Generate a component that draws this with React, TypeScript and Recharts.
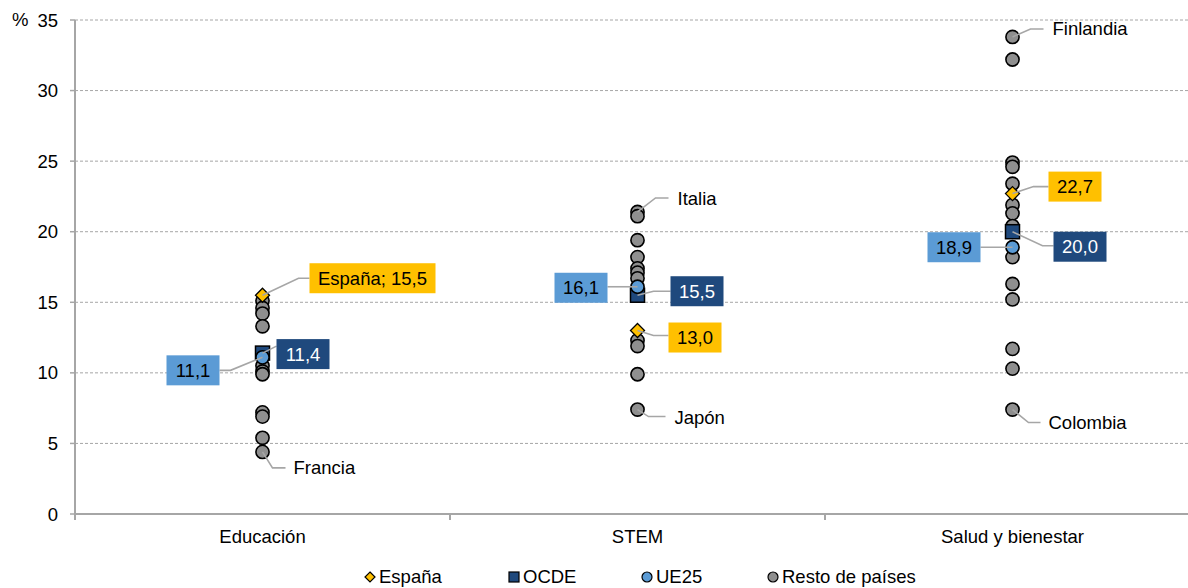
import React from 'react';
import { ScatterChart, Scatter, XAxis, YAxis, CartesianGrid, Legend } from 'recharts';

// categorías y valores (%)
const categories = ['Educación', 'STEM', 'Salud y bienestar'];
const espana = [15.5, 13.0, 22.7];
const ocde = [11.4, 15.5, 20.0];
const ue25 = [11.1, 16.1, 18.9];
const restoEducacion = [15.1, 14.6, 14.2, 13.3, 10.5, 10.1, 9.9, 7.2, 6.9, 5.4, 4.4];
const restoStem = [21.4, 21.1, 19.4, 18.2, 17.4, 17.1, 16.7, 12.3, 11.9, 9.9, 7.4];
const restoSalud = [33.8, 32.2, 24.9, 24.6, 23.4, 21.9, 21.3, 20.4, 18.2, 16.3, 15.2, 11.7, 10.3, 7.4];
const paisesEtiquetados = [
  { cat: 0, value: 4.4, name: 'Francia' },
  { cat: 1, value: 21.4, name: 'Italia' },
  { cat: 1, value: 7.4, name: 'Japón' },
  { cat: 2, value: 33.8, name: 'Finlandia' },
  { cat: 2, value: 7.4, name: 'Colombia' },
];
const yTicks = [0, 5, 10, 15, 20, 25, 30, 35];
const xTicks = [0, 0.5, 1, 1.5, 2, 2.5, 3];

const FONT = '"Liberation Sans", Arial, sans-serif';
const FS = 18.5;
const GRAY_LINE = '#a6a6a6';

const colors = {
  espana: '#FFC000',
  ocde: '#1F497D',
  ue25: '#5B9BD5',
  resto: '#8f8f8f',
};

// colocación de las etiquetas (px relativos al punto)
const boxPlacement: Record<string, { box: number[]; line: number[][]; prefix?: string }> = {
  'espana-0': { box: [47, -32, 126], line: [[36, -17], [47, -17]], prefix: 'España; ' },
  'ocde-0': { box: [14, -14, 53], line: [[14, -7]] },
  'ue25-0': { box: [-96, -2, 53], line: [[-32, 13], [-43, 13]] },
  'ue25-1': { box: [-83, -14, 53], line: [[-30, 0]] },
  'ocde-1': { box: [33, -19, 53], line: [[16, -4], [33, -4]] },
  'espana-1': { box: [31, -8, 53], line: [[16, 5], [31, 5]] },
  'espana-2': { box: [36, -22, 53], line: [[21, -7], [36, -7]] },
  'ue25-2': { box: [-85, -15, 53], line: [[-32, 0]] },
  'ocde-2': { box: [41, 0, 53], line: [[30, 14], [41, 14]] },
};
const countryPlacement: Record<string, { line: number[][]; text: number[] }> = {
  Francia: { line: [[10, 16], [23, 16]], text: [31, 16] },
  Italia: { line: [[18, -14], [31, -14]], text: [40, -13] },
  'Japón': { line: [[11, 7], [28, 7]], text: [37, 8] },
  Finlandia: { line: [[18, -8], [31, -8]], text: [40, -8] },
  Colombia: { line: [[16, 13], [28, 13]], text: [36, 13] },
};

const fmt = (v: number) => v.toFixed(1).replace('.', ',');
const toPoints = (values: number[], key: string) =>
  values.map((v, i) => ({ x: i + 0.5, y: v, id: `${key}-${i}` }));

const restoData = [restoEducacion, restoStem, restoSalud].flatMap((vals, i) =>
  vals.map((v) => ({ x: i + 0.5, y: v }))
);
const espanaData = toPoints(espana, 'espana');
const ocdeData = toPoints(ocde, 'ocde');
const ue25Data = toPoints(ue25, 'ue25');
const calloutData = [...espanaData, ...ocdeData, ...ue25Data];
const countryData = paisesEtiquetados.map((p) => ({ x: p.cat + 0.5, y: p.value, name: p.name }));

const GrayDot = (p: any) => (
  <circle cx={p.cx} cy={p.cy} r={6.6} fill={colors.resto} stroke="#000" strokeWidth={1.6} />
);
const BlueDot = (p: any) => (
  <circle cx={p.cx} cy={p.cy} r={6.6} fill={colors.ue25} stroke="#000" strokeWidth={1.6} />
);
const Square = (p: any) => (
  <rect x={p.cx - 7} y={p.cy - 7} width={14} height={14} fill={colors.ocde} stroke="#000" strokeWidth={1.5} />
);
const Diamond = (p: any) => (
  <polygon
    points={`${p.cx},${p.cy - 7} ${p.cx + 7},${p.cy} ${p.cx},${p.cy + 7} ${p.cx - 7},${p.cy}`}
    fill={colors.espana}
    stroke="#000"
    strokeWidth={1.3}
  />
);

const Callout = (p: any) => {
  const id: string = p.payload.id;
  const place = boxPlacement[id];
  if (!place) return <g />;
  const series = id.split('-')[0] as 'espana' | 'ocde' | 'ue25';
  const { cx, cy } = p;
  const pts = [[cx, cy], ...place.line.map(([dx, dy]) => [cx + dx, cy + dy])]
    .map((q) => q.join(','))
    .join(' ');
  const [bx, by, bw] = place.box;
  const text = (place.prefix || '') + fmt(p.payload.y);
  return (
    <g>
      <polyline points={pts} fill="none" stroke={GRAY_LINE} strokeWidth={1.6} />
      <rect x={cx + bx} y={cy + by} width={bw} height={30} fill={colors[series]} />
      <text
        x={cx + bx + bw / 2}
        y={cy + by + 15}
        dy="0.35em"
        textAnchor="middle"
        fontSize={FS}
        fontFamily={FONT}
        fill={series === 'ocde' ? '#fff' : '#000'}
      >
        {text}
      </text>
    </g>
  );
};

const CountryLabel = (p: any) => {
  const place = countryPlacement[p.payload.name];
  const { cx, cy } = p;
  const pts = [[cx, cy], ...place.line.map(([dx, dy]) => [cx + dx, cy + dy])]
    .map((q) => q.join(','))
    .join(' ');
  return (
    <g>
      <polyline points={pts} fill="none" stroke={GRAY_LINE} strokeWidth={1.6} />
      <text
        x={cx + place.text[0]}
        y={cy + place.text[1]}
        dy="0.35em"
        fontSize={FS}
        fontFamily={FONT}
        fill="#000"
      >
        {p.payload.name}
      </text>
    </g>
  );
};

const XTick = (p: any) => {
  const v = p.payload.value;
  if (Number.isInteger(v)) {
    return <line x1={p.x} x2={p.x} y1={p.y} y2={p.y + 6} stroke={GRAY_LINE} strokeWidth={2} />;
  }
  return (
    <text x={p.x} y={p.y + 23} dy="0.35em" textAnchor="middle" fontSize={FS} fontFamily={FONT} fill="#000">
      {categories[Math.floor(v)]}
    </text>
  );
};

const legendItems = [
  { name: 'España', icon: 'diamond', color: colors.espana, w: 144 },
  { name: 'OCDE', icon: 'square', color: colors.ocde, w: 133 },
  { name: 'UE25', icon: 'circle', color: colors.ue25, w: 126 },
  { name: 'Resto de países', icon: 'circle', color: colors.resto, w: 200 },
];

const LegendIcon = ({ icon, color }: { icon: string; color: string }) => (
  <svg width={12} height={12} style={{ marginRight: 3, flex: 'none' }}>
    {icon === 'diamond' && <polygon points="6,1 11,6 6,11 1,6" fill={color} stroke="#000" strokeWidth={1.2} />}
    {icon === 'square' && <rect x={1} y={1} width={10} height={10} fill={color} stroke="#000" strokeWidth={1.2} />}
    {icon === 'circle' && <circle cx={6} cy={6} r={5} fill={color} stroke="#000" strokeWidth={1.2} />}
  </svg>
);

const LegendRow = () => (
  <div style={{ height: 30, paddingLeft: 364, paddingTop: 8, boxSizing: 'border-box', display: 'flex' }}>
    {legendItems.map((it) => (
      <div
        key={it.name}
        style={{ width: it.w, display: 'flex', alignItems: 'center', fontSize: FS, lineHeight: '22px', fontFamily: FONT }}
      >
        <LegendIcon icon={it.icon} color={it.color} />
        <span>{it.name}</span>
      </div>
    ))}
  </div>
);

export default function App() {
  return (
    <div style={{ position: 'absolute', left: 0, top: 0, width: 1188, height: 588, overflow: 'hidden', background: '#fff', fontFamily: FONT }}>
      <ScatterChart width={1200} height={588} margin={{ top: 20, right: 0, bottom: 0, left: 0 }}>
        <CartesianGrid vertical={false} stroke={GRAY_LINE} strokeDasharray="3 2" />
        <XAxis
          dataKey="x"
          type="number"
          domain={[0, 3]}
          ticks={xTicks}
          interval={0}
          height={44}
          tickLine={false}
          tickSize={0}
          tickMargin={0}
          axisLine={{ stroke: GRAY_LINE, strokeWidth: 2 }}
          tick={<XTick />}
        />
        <YAxis
          dataKey="y"
          type="number"
          domain={[0, 35]}
          ticks={yTicks}
          interval={0}
          width={75}
          tickSize={5}
          tickMargin={12}
          axisLine={{ stroke: GRAY_LINE, strokeWidth: 2 }}
          tickLine={{ stroke: GRAY_LINE, strokeWidth: 1.5 }}
          tick={{ fontSize: FS, fill: '#000', fontFamily: FONT }}
          label={{
            content: () => (
              <text x={12} y={20} dy="0.35em" fontSize={FS} fontFamily={FONT} fill="#000">
                %
              </text>
            ),
          }}
        />
        <Legend verticalAlign="bottom" height={30} content={() => <LegendRow />} />
        <Scatter name="Resto de países" data={restoData} shape={GrayDot} isAnimationActive={false} />
        <Scatter name="OCDE" data={ocdeData} shape={Square} isAnimationActive={false} />
        <Scatter name="UE25" data={ue25Data} shape={BlueDot} isAnimationActive={false} />
        <Scatter name="España" data={espanaData} shape={Diamond} isAnimationActive={false} />
        <Scatter name="etiquetas-paises" data={countryData} shape={CountryLabel} legendType="none" isAnimationActive={false} />
        <Scatter name="etiquetas" data={calloutData} shape={Callout} legendType="none" isAnimationActive={false} />
      </ScatterChart>
    </div>
  );
}
